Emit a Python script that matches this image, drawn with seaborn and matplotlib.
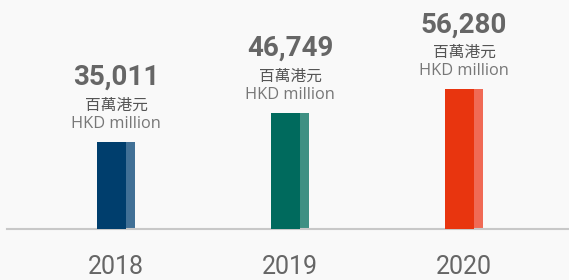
import matplotlib
matplotlib.use("Agg")
import matplotlib.pyplot as plt
import seaborn as sns
import pandas as pd
from matplotlib.patches import Rectangle

years = ["2018", "2019", "2020"]
values = [35011, 46749, 56280]
dark_colors = ["#003e6d", "#006a5d", "#e8350f"]
light_colors = ["#417096", "#3e9083", "#f06a55"]
unit_zh = "百萬港元"
unit_en = "HKD million"

bg = "#f9f9f9"
sns.set_theme(style="white")
plt.rcParams["font.family"] = ["Roboto", "DejaVu Sans"]

df = pd.DataFrame({"year": years, "value": values})

fig = plt.figure(figsize=(5.69, 2.8), dpi=100, facecolor=bg)
ax = fig.add_axes([0, 1 - 229 / 280, 1, 229 / 280])
ax.set_facecolor(bg)

sns.barplot(data=df, x="year", y="value", hue="year", palette=light_colors,
            width=0.218, legend=False, ax=ax, saturation=1, linewidth=0)

# darker left part of each bar
for bar, c in zip(ax.patches, dark_colors):
    x0, w, h = bar.get_x(), bar.get_width(), bar.get_height()
    ax.add_patch(Rectangle((x0, 0), w * 29 / 38, h, facecolor=c, lw=0, zorder=3))

for i, v in enumerate(values):
    ax.annotate(f"{v:,}", (i, v), xytext=(0, 41), textcoords="offset points",
                ha="center", va="baseline", fontsize=20, fontweight="bold",
                color="#666666")
    ax.annotate(unit_zh, (i, v), xytext=(0, 23), textcoords="offset points",
                ha="center", va="baseline", fontsize=11.3, color="#555555",
                family=["Noto Sans CJK TC", "DejaVu Sans"])
    ax.annotate(unit_en, (i, v), xytext=(0, 10), textcoords="offset points",
                ha="center", va="baseline", fontsize=11.8, color="#777777",
                family=["Open Sans", "DejaVu Sans"])

ax.set_xlim(-0.667, 2.603)
ax.set_ylim(0, 92150)
ax.set_xlabel("")
ax.set_ylabel("")
ax.set_yticks([])
for s in ["top", "right", "left"]:
    ax.spines[s].set_visible(False)
ax.spines["bottom"].set_color("#c8c8c8")
ax.spines["bottom"].set_linewidth(1.5)
ax.spines["bottom"].set_bounds(-0.627, 2.603)
ax.tick_params(axis="x", length=0, pad=19, labelsize=18, labelcolor="#666666")
for t in ax.get_xticklabels():
    t.set_fontweight("normal")

fig.savefig("out.png", dpi=100, facecolor=bg)
